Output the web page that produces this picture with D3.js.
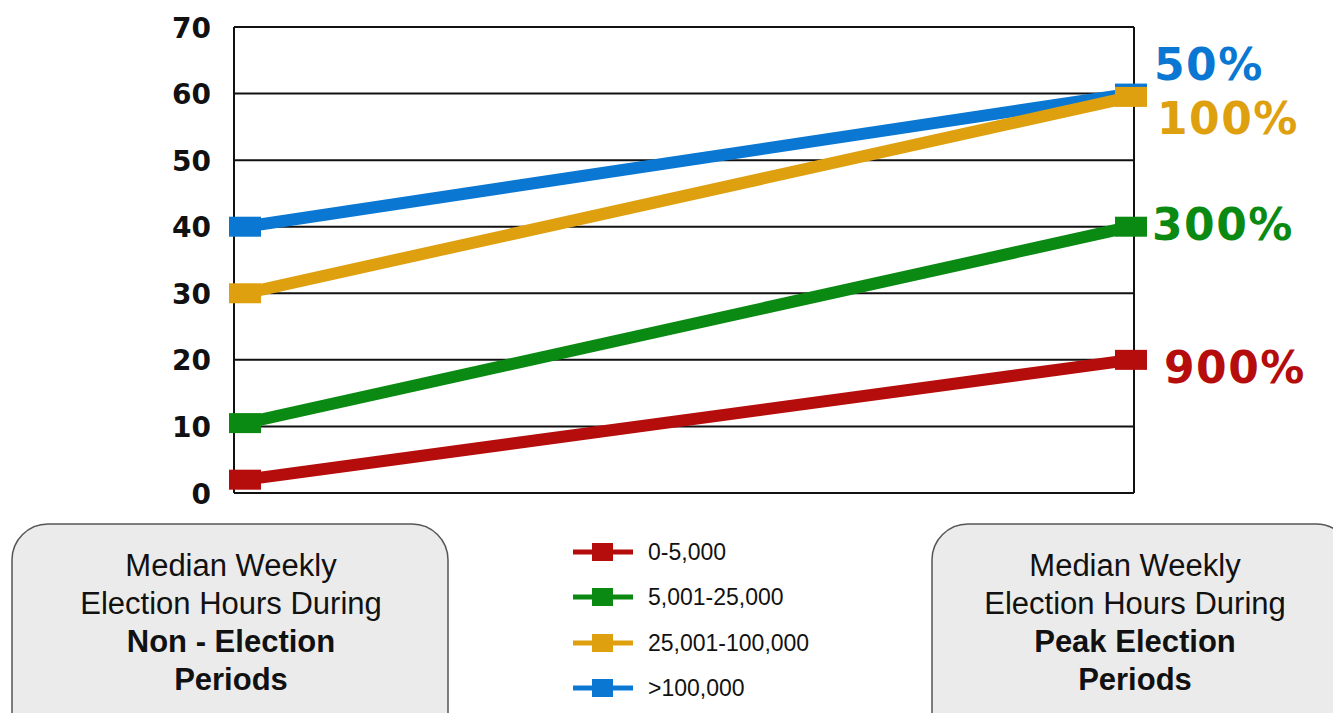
<!DOCTYPE html>
<html>
<head>
<meta charset="utf-8">
<script src="https://cdn.jsdelivr.net/npm/d3@7"></script>
<style>
  html, body { margin: 0; padding: 0; background: #fff; }
  svg { display: block; }
</style>
</head>
<body>
<svg id="chart" width="1333" height="713"></svg>
<script>
// Population bands and their median weekly election hours
const periods = ["Non-Election", "Peak Election"];
const bands = ["0-5,000", "5,001-25,000", "25,001-100,000", ">100,000"];
const nonElectionHours = [2, 10.5, 30, 40];
const peakElectionHours = [20, 40, 59.5, 60];
const increaseLabels = ["900%", "300%", "100%", "50%"];
const bandColors = ["#b50c0c", "#0a8a12", "#dea00e", "#0a78d2"];
const yTicks = [0, 10, 20, 30, 40, 50, 60, 70];

const svg = d3.select("#chart");

const plot = { left: 234, right: 1134, top: 27, bottom: 493 };

const y = d3.scaleLinear().domain([0, 70]).range([plot.bottom, plot.top]);
const x = d3.scalePoint().domain(periods).range([245, 1131]);

// Horizontal grid lines
svg.append("g")
  .selectAll("line")
  .data(yTicks)
  .join("line")
  .attr("x1", plot.left).attr("x2", plot.right)
  .attr("y1", d => y(d)).attr("y2", d => y(d))
  .attr("stroke", "#111").attr("stroke-width", 2);

// Vertical frame lines
[plot.left, plot.right].forEach(px => {
  svg.append("line")
    .attr("x1", px).attr("x2", px)
    .attr("y1", plot.top).attr("y2", plot.bottom)
    .attr("stroke", "#111").attr("stroke-width", 2);
});

// Y axis tick labels
const yAxis = d3.axisLeft(y).tickValues(yTicks).tickSize(0).tickPadding(0);
const yg = svg.append("g").attr("transform", "translate(211,0)").call(yAxis);
yg.select(".domain").remove();
yg.selectAll("text")
  .attr("font-family", "'DejaVu Sans', sans-serif")
  .attr("font-weight", "bold")
  .attr("font-size", 28)
  .attr("fill", "#111")
  .attr("dy", "0.36em");

// Series
const series = bands.map((b, i) => ({
  band: b,
  color: bandColors[i],
  label: increaseLabels[i],
  values: [
    { period: periods[0], v: nonElectionHours[i] },
    { period: periods[1], v: peakElectionHours[i] }
  ]
}));

const line = d3.line().x(d => x(d.period)).y(d => y(d.v));

const drawOrder = [0, 1, 3, 2];
const sg = svg.append("g");
drawOrder.forEach(i => {
  const s = series[i];
  const g = sg.append("g");
  g.append("path")
    .attr("d", line(s.values))
    .attr("fill", "none")
    .attr("stroke", s.color)
    .attr("stroke-width", 12);
  g.selectAll("rect")
    .data(s.values)
    .join("rect")
    .attr("x", d => x(d.period) - 16)
    .attr("y", d => y(d.v) - 10)
    .attr("width", 32)
    .attr("height", 20)
    .attr("fill", s.color);
});

// Percentage increase labels
const labelPos = [
  { x: 1164, y: 367 },
  { x: 1152, y: 224 },
  { x: 1157, y: 118 },
  { x: 1154, y: 64 }
];
svg.append("g")
  .selectAll("text")
  .data(series)
  .join("text")
  .attr("x", (d, i) => labelPos[i].x)
  .attr("y", (d, i) => labelPos[i].y)
  .attr("dy", "0.36em")
  .attr("font-family", "'DejaVu Sans', sans-serif")
  .attr("font-weight", "bold")
  .attr("font-size", 44)
  .attr("letter-spacing", 1.5)
  .attr("fill", d => d.color)
  .text(d => d.label);

// Legend
const legend = svg.append("g");
const legendRows = [552, 597, 643, 688];
series.forEach((s, i) => {
  const ly = legendRows[i];
  legend.append("line")
    .attr("x1", 573).attr("x2", 633)
    .attr("y1", ly).attr("y2", ly)
    .attr("stroke", s.color).attr("stroke-width", 5);
  legend.append("rect")
    .attr("x", 592).attr("y", ly - 9)
    .attr("width", 21).attr("height", 18)
    .attr("fill", s.color);
  legend.append("text")
    .attr("x", 648).attr("y", ly)
    .attr("dy", "0.35em")
    .attr("font-family", "Liberation Sans, Arial, sans-serif")
    .attr("font-size", 23)
    .attr("fill", "#111")
    .text(s.band);
});

// Period caption boxes
const boxes = [
  { x: 12, w: 436, cx: 231, bold: ["Non - Election", "Periods"] },
  { x: 932, w: 420, cx: 1135, bold: ["Peak Election", "Periods"] }
];
boxes.forEach(b => {
  const g = svg.append("g");
  g.append("rect")
    .attr("x", b.x).attr("y", 524)
    .attr("width", b.w).attr("height", 230)
    .attr("rx", 36).attr("ry", 36)
    .attr("fill", "#ebebeb")
    .attr("stroke", "#555").attr("stroke-width", 1.5);
  const lines = [
    { t: "Median Weekly", bold: false },
    { t: "Election Hours During", bold: false },
    { t: b.bold[0], bold: true },
    { t: b.bold[1], bold: true }
  ];
  const ys = [565, 603, 641, 679];
  lines.forEach((l, k) => {
    g.append("text")
      .attr("x", b.cx).attr("y", ys[k])
      .attr("dy", "0.35em")
      .attr("text-anchor", "middle")
      .attr("font-family", "Liberation Sans, Arial, sans-serif")
      .attr("font-weight", l.bold ? "bold" : "normal")
      .attr("font-size", 31)
      .attr("fill", "#111")
      .text(l.t);
  });
});
</script>
</body>
</html>
